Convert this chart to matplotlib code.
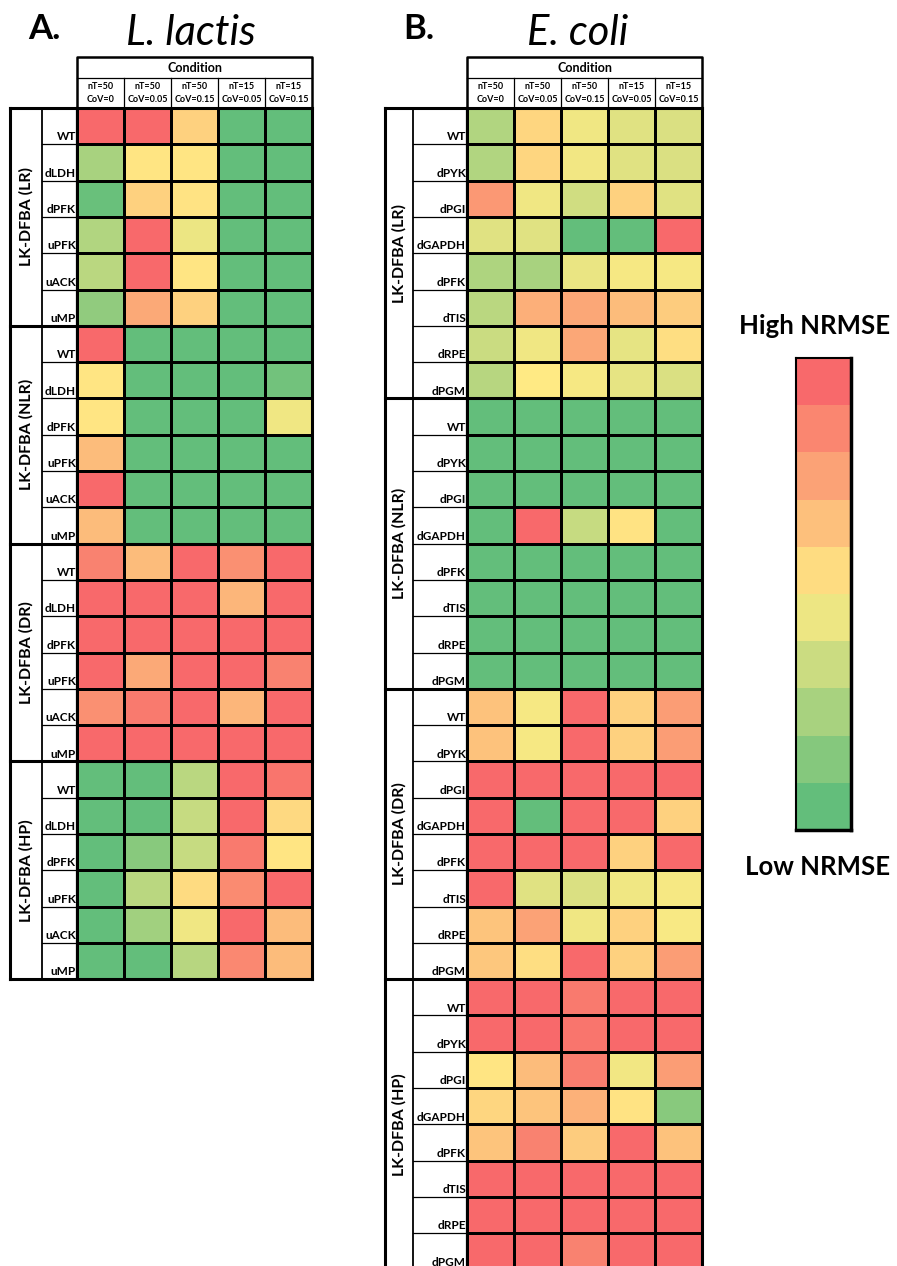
import numpy as np
import matplotlib.pyplot as plt
from matplotlib.colors import LinearSegmentedColormap

plt.rcParams['font.family'] = ['Lato', 'DejaVu Sans']

conditions = ["nT=50\nCoV=0", "nT=50\nCoV=0.05", "nT=50\nCoV=0.15",
              "nT=15\nCoV=0.05", "nT=15\nCoV=0.15"]
methods = ["LK-DFBA (LR)", "LK-DFBA (NLR)", "LK-DFBA (DR)", "LK-DFBA (HP)"]

lactis_strains = ["WT", "dLDH", "dPFK", "uPFK", "uACK", "uMP"]
coli_strains = ["WT", "dPYK", "dPGI", "dGAPDH", "dPFK", "dTIS", "dRPE", "dPGM"]

# scaled NRMSE, 0 = lowest (green), 1 = highest (red)
lactis_lr = [[1.00, 1.00, 0.60, 0.00, 0.00],
             [0.22, 0.52, 0.52, 0.00, 0.00],
             [0.02, 0.60, 0.53, 0.00, 0.00],
             [0.25, 1.00, 0.44, 0.00, 0.00],
             [0.28, 1.00, 0.52, 0.00, 0.00],
             [0.15, 0.75, 0.60, 0.00, 0.00]]
lactis_nlr = [[1.00, 0.00, 0.00, 0.00, 0.00],
              [0.52, 0.00, 0.00, 0.00, 0.05],
              [0.52, 0.00, 0.00, 0.00, 0.45],
              [0.68, 0.00, 0.00, 0.00, 0.00],
              [1.00, 0.00, 0.00, 0.00, 0.00],
              [0.68, 0.00, 0.00, 0.00, 0.00]]
lactis_dr = [[0.90, 0.68, 1.00, 0.85, 1.00],
             [1.00, 1.00, 1.00, 0.70, 1.00],
             [1.00, 1.00, 1.00, 1.00, 1.00],
             [1.00, 0.75, 1.00, 1.00, 0.90],
             [0.85, 0.93, 1.00, 0.70, 1.00],
             [1.00, 1.00, 1.00, 1.00, 1.00]]
lactis_hp = [[0.00, 0.00, 0.28, 1.00, 0.95],
             [0.00, 0.00, 0.32, 1.00, 0.57],
             [0.00, 0.12, 0.32, 0.93, 0.52],
             [0.00, 0.28, 0.56, 0.87, 1.00],
             [0.00, 0.20, 0.45, 1.00, 0.68],
             [0.00, 0.00, 0.27, 0.88, 0.68]]

coli_lr = [[0.25, 0.58, 0.45, 0.40, 0.38],
           [0.25, 0.58, 0.46, 0.40, 0.38],
           [0.82, 0.45, 0.35, 0.60, 0.40],
           [0.40, 0.40, 0.00, 0.00, 1.00],
           [0.24, 0.22, 0.43, 0.47, 0.47],
           [0.28, 0.73, 0.76, 0.68, 0.62],
           [0.33, 0.45, 0.76, 0.42, 0.55],
           [0.27, 0.50, 0.47, 0.42, 0.38]]
coli_nlr = [[0.00, 0.00, 0.00, 0.00, 0.00],
            [0.00, 0.00, 0.00, 0.00, 0.00],
            [0.00, 0.00, 0.00, 0.00, 0.00],
            [0.00, 1.00, 0.32, 0.53, 0.00],
            [0.00, 0.00, 0.00, 0.00, 0.00],
            [0.00, 0.00, 0.00, 0.00, 0.00],
            [0.00, 0.00, 0.00, 0.00, 0.00],
            [0.00, 0.00, 0.00, 0.00, 0.00]]
coli_dr = [[0.66, 0.47, 1.00, 0.60, 0.80],
           [0.66, 0.47, 1.00, 0.60, 0.80],
           [1.00, 1.00, 1.00, 1.00, 1.00],
           [1.00, 0.00, 1.00, 1.00, 0.60],
           [1.00, 1.00, 1.00, 0.60, 1.00],
           [1.00, 0.40, 0.38, 0.45, 0.47],
           [0.65, 0.78, 0.45, 0.60, 0.48],
           [0.64, 0.55, 1.00, 0.60, 0.80]]
coli_hp = [[1.00, 1.00, 0.93, 1.00, 1.00],
           [1.00, 1.00, 0.95, 1.00, 1.00],
           [0.52, 0.68, 0.92, 0.46, 0.80],
           [0.58, 0.65, 0.72, 0.53, 0.12],
           [0.65, 0.90, 0.62, 1.00, 0.66],
           [1.00, 1.00, 1.00, 1.00, 1.00],
           [1.00, 1.00, 1.00, 1.00, 1.00],
           [1.00, 1.00, 0.90, 1.00, 1.00]]

legend_levels = np.linspace(0, 1, 10)

cmap = LinearSegmentedColormap.from_list("nrmse", ["#63BE7B", "#FFEB84", "#F8696B"])

W, H = 897, 1266
fig = plt.figure(figsize=(W / 100, H / 100), dpi=100)
fig.patch.set_facecolor("white")

COL_W, ROW_H = 47.0, 36.3
TOP = 108


def px_axes(x0, y0, x1, y1):
    return fig.add_axes([x0 / W, 1 - y1 / H, (x1 - x0) / W, (y1 - y0) / H])


def draw_panel(x_left, x_label, x_heat, blocks, strains):
    data = np.vstack([np.array(b) for b in blocks])
    n = data.shape[0]
    ax = px_axes(x_heat, TOP, x_heat + 5 * COL_W, TOP + n * ROW_H)
    ax.pcolormesh(np.arange(6), np.arange(n + 1), data, cmap=cmap,
                  vmin=0, vmax=1, edgecolors="black", linewidth=0.9)
    ax.set_xlim(0, 5)
    ax.set_ylim(n, 0)
    ax.axis("off")

    lx = (x_label - x_heat) / COL_W   # left edge of strain column
    gx = (x_left - x_heat) / COL_W    # left edge of method column
    kw = dict(color="black", clip_on=False, solid_capstyle="projecting")

    # header
    h_top = (57 - TOP) / ROW_H
    h_mid = (78 - TOP) / ROW_H
    ax.plot([0, 5], [h_mid, h_mid], lw=0.9, **kw)
    for j in range(1, 5):
        ax.plot([j, j], [h_mid, 0], lw=0.9, **kw)
    ax.plot([0, 0, 5, 5], [0, h_top, h_top, 0], lw=1.8, **kw)
    ax.text(2.5, (h_top + h_mid) / 2, "Condition", ha="center", va="center",
            fontsize=9, fontweight="bold")
    for j, c in enumerate(conditions):
        ax.text(j + 0.5, h_mid / 2, c, ha="center", va="center",
                fontsize=6.5, fontweight="bold", linespacing=1.6)

    # strain labels
    for i, s in enumerate(strains * len(blocks)):
        ax.plot([lx, 0], [i + 1, i + 1], lw=0.9, **kw)
        ax.text(-0.02, i + 0.95, s, ha="right", va="bottom",
                fontsize=8.5, fontweight="bold")
    ax.plot([lx, lx], [0, n], lw=1.3, **kw)
    ax.plot([0, 0], [0, n], lw=1.6, **kw)

    # method groups
    size = len(strains)
    for g, m in enumerate(methods[:len(blocks)]):
        ax.plot([gx, 5], [g * size, g * size], lw=2.2, **kw)
        ax.text((gx + lx) / 2, g * size + size / 2, m, rotation=90,
                ha="center", va="center", fontsize=11.5, fontweight="bold")
    ax.plot([gx, 5], [n, n], lw=2.2, **kw)
    ax.plot([gx, gx], [0, n], lw=2.2, **kw)
    ax.plot([5, 5], [0, n], lw=2.2, **kw)
    return ax


draw_panel(10, 42, 77, [lactis_lr, lactis_nlr, lactis_dr, lactis_hp], lactis_strains)
draw_panel(385, 413, 467, [coli_lr, coli_nlr, coli_dr, coli_hp], coli_strains)

# panel titles
fig.text(28 / W, 1 - 39 / H, "A.", fontsize=25, fontweight="bold", va="baseline")
fig.text(191 / W, 1 - 45 / H, "L. lactis", fontsize=30, style="italic",
         ha="center", va="baseline")
fig.text(403 / W, 1 - 39 / H, "B.", fontsize=25, fontweight="bold", va="baseline")
fig.text(578 / W, 1 - 45 / H, "E. coli", fontsize=30, style="italic",
         ha="center", va="baseline")

# colour legend
cax = px_axes(796, 358, 851, 830)
cax.pcolormesh([0, 1], np.arange(11), legend_levels[:, None], cmap=cmap,
               vmin=0, vmax=1)
cax.set_xlim(0, 1)
cax.set_ylim(0, 10)
cax.set_xticks([])
cax.set_yticks([])
for sp in cax.spines.values():
    sp.set_linewidth(1.5)
cax.spines["right"].set_linewidth(2.5)
cax.spines["bottom"].set_linewidth(2.5)
fig.text(815 / W, 1 - 334 / H, "High NRMSE", fontsize=18.5, fontweight="bold",
         ha="center", va="baseline")
fig.text(818 / W, 1 - 875 / H, "Low NRMSE", fontsize=18.5, fontweight="bold",
         ha="center", va="baseline")

fig.savefig("out.png", dpi=100)
